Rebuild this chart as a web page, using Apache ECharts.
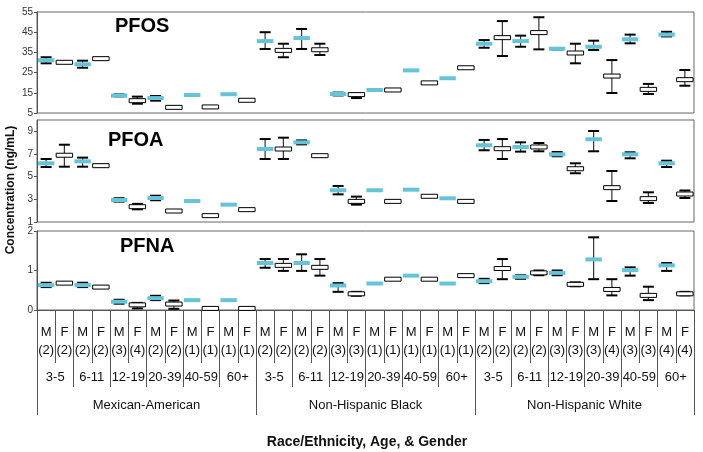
<!DOCTYPE html>
<html>
<head>
<meta charset="utf-8">
<script src="https://cdn.jsdelivr.net/npm/echarts@6/dist/echarts.min.js"></script>
<style>
  html, body { margin: 0; padding: 0; background: #fff; }
  #chart { width: 703px; height: 452px; }
</style>
</head>
<body>
<div id="chart"></div>
<script>
const races = ['Mexican-American', 'Non-Hispanic Black', 'Non-Hispanic White']
const ages = ['3-5', '6-11', '12-19', '20-39', '40-59', '60+']
const sexes = ['M', 'F']
const sampleN = [
  2, 2, 2, 2, 3, 4, 2, 2, 1, 1, 1, 1,
  2, 2, 2, 2, 3, 3, 1, 1, 1, 1, 1, 1,
  2, 2, 2, 2, 3, 3, 3, 4, 3, 3, 4, 4,
]

// mean / low / high per group, null = no range (n=1)
const pfosMean = [
  31.1, 30.1, 29.1, 31.9, 13.6, 11.1, 12.4, 7.8, 13.9, 8.0, 14.3, 11.3,
  40.6, 36.0, 42.1, 36.3, 14.4, 14.1, 16.4, 16.4, 26.1, 19.9, 22.2, 27.4,
  39.3, 42.3, 40.6, 44.8, 36.8, 34.7, 37.8, 23.3, 41.5, 16.7, 43.8, 21.5,
]
const pfosLow = [
  29.6, 29.8, 27.4, 31.5, 13.2, 9.6, 11.1, 7.5, null, null, null, null,
  36.7, 32.6, 36.7, 33.7, 13.7, 12.4, null, null, null, null, null, null,
  37.3, 33.2, 37.8, 36.5, 36.4, 29.6, 36.2, 14.9, 39.5, 14.4, 42.9, 18.5,
]
const pfosHigh = [
  32.6, 30.4, 30.9, 32.3, 14.2, 13.1, 13.4, 8.2, null, null, null, null,
  45.0, 39.3, 46.6, 39.3, 15.1, 14.6, null, null, null, null, null, null,
  41.1, 50.5, 43.3, 52.4, 37.2, 39.3, 40.8, 31.2, 43.8, 19.4, 45.2, 26.3,
]

const pfoaMean = [
  6.18, 6.89, 6.35, 5.97, 2.94, 2.35, 3.12, 1.97, 2.85, 1.56, 2.53, 2.09,
  7.44, 7.44, 8.03, 6.85, 3.8, 2.82, 3.8, 2.82, 3.85, 3.27, 3.09, 2.82,
  7.77, 7.47, 7.62, 7.62, 6.97, 5.7, 8.3, 4.03, 6.97, 3.06, 6.18, 3.47,
]
const pfoaLow = [
  5.85, 5.88, 5.88, 5.9, 2.8, 2.12, 2.92, 1.9, null, null, null, null,
  6.56, 6.56, 7.85, 6.8, 3.44, 2.53, null, null, null, null, null, null,
  7.33, 6.56, 7.21, 7.24, 6.8, 5.3, 7.24, 2.85, 6.62, 2.68, 5.85, 3.12,
]
const pfoaHigh = [
  6.56, 7.82, 6.68, 6.05, 3.1, 2.6, 3.32, 2.05, null, null, null, null,
  8.32, 8.44, 8.2, 6.9, 4.18, 3.24, null, null, null, null, null, null,
  8.24, 8.32, 8.03, 7.97, 7.18, 6.18, 9.03, 5.5, 7.15, 3.62, 6.41, 3.78,
]

const pfnaMean = [
  0.63, 0.68, 0.63, 0.58, 0.21, 0.13, 0.30, 0.15, 0.25, 0.04, 0.25, 0.04,
  1.19, 1.13, 1.19, 1.08, 0.62, 0.41, 0.67, 0.78, 0.87, 0.78, 0.67, 0.87,
  0.73, 1.05, 0.84, 0.94, 0.94, 0.65, 1.28, 0.52, 1.01, 0.37, 1.13, 0.41,
]
const pfnaLow = [
  0.58, 0.66, 0.58, 0.56, 0.16, 0.04, 0.25, 0.03, null, null, null, null,
  1.07, 0.99, 0.99, 0.87, 0.46, 0.36, null, null, null, null, null, null,
  0.68, 0.78, 0.79, 0.88, 0.88, 0.6, 0.78, 0.37, 0.87, 0.25, 0.99, 0.37,
]
const pfnaHigh = [
  0.69, 0.70, 0.69, 0.60, 0.26, 0.18, 0.36, 0.24, null, null, null, null,
  1.29, 1.29, 1.41, 1.29, 0.68, 0.46, null, null, null, null, null, null,
  0.79, 1.29, 0.88, 1.0, 1.0, 0.7, 1.84, 0.78, 1.08, 0.59, 1.19, 0.46,
]

const FONT = 'Arial, "Liberation Sans", sans-serif'
const CYAN = '#66c4d8'

// 36 groups: race > age > sex
const groupLabels = []
races.forEach(() => ages.forEach(() => sexes.forEach(s => groupLabels.push(s))))
const catLabels = groupLabels.map((s, i) => s + '\n(' + sampleN[i] + ')')
const ageCats = []
races.forEach((r, ri) => ages.forEach(a => ageCats.push(a + '#' + ri)))

function toData(mean, low, high) {
  return mean.map((m, i) => [
    i, m,
    low[i] == null ? m : low[i],
    high[i] == null ? m : high[i],
    groupLabels[i] === 'M' ? 1 : 0,
    low[i] == null ? 0 : 1,
  ])
}

function renderMark(params, api) {
  const i = api.value(0)
  const c = api.coord([i, api.value(1)])
  const bw = api.size([1, 0])[0] * 0.9
  const cw = 11
  const children = []
  if (api.value(5)) {
    const lo = api.coord([i, api.value(2)])
    const hi = api.coord([i, api.value(3)])
    children.push({ type: 'line', shape: { x1: c[0], y1: lo[1], x2: c[0], y2: hi[1] }, style: { stroke: '#333', lineWidth: 1.2 } })
    children.push({ type: 'line', shape: { x1: c[0] - cw / 2, y1: lo[1], x2: c[0] + cw / 2, y2: lo[1] }, style: { stroke: '#000', lineWidth: 2 } })
    children.push({ type: 'line', shape: { x1: c[0] - cw / 2, y1: hi[1], x2: c[0] + cw / 2, y2: hi[1] }, style: { stroke: '#000', lineWidth: 2 } })
  }
  const male = api.value(4) === 1
  children.push({
    type: 'rect',
    shape: { x: c[0] - bw / 2, y: c[1] - 2, width: bw, height: 4 },
    style: male ? { fill: CYAN } : { fill: '#fff', stroke: '#000', lineWidth: 1 },
  })
  return { type: 'group', children }
}

const grids = [
  { left: 37, right: 9, top: 12, height: 101 },
  { left: 37, right: 9, top: 120, height: 102 },
  { left: 37, right: 9, top: 231, height: 79 },
].map(g => Object.assign(g, { show: true, borderColor: '#666', borderWidth: 1, containLabel: false }))

const yLabel = { fontSize: 10, color: '#333', fontFamily: FONT, margin: 4 }
const yCommon = {
  type: 'value',
  splitLine: { show: false },
  axisLine: { show: true, lineStyle: { color: '#555' } },
  axisTick: { show: true, length: 3, lineStyle: { color: '#555' } },
  axisLabel: yLabel,
}

const axisFont = { fontSize: 13, color: '#111', fontFamily: FONT }
const sepLine = { color: '#555', width: 1 }

const chart = echarts.init(document.getElementById('chart'))
chart.setOption({
  animation: false,
  grid: grids,
  xAxis: [
    { type: 'category', gridIndex: 0, data: catLabels, show: false },
    { type: 'category', gridIndex: 1, data: catLabels, show: false },
    {
      type: 'category', gridIndex: 2, data: catLabels, position: 'bottom',
      axisLine: { show: true, onZero: false, lineStyle: sepLine },
      axisTick: { show: true, length: 53, lineStyle: sepLine },
      axisLabel: Object.assign({ interval: 0, margin: 13, lineHeight: 18 }, axisFont),
    },
    {
      type: 'category', gridIndex: 2, data: ageCats, position: 'bottom',
      axisLine: { show: false, onZero: false },
      axisTick: { show: true, length: 77, lineStyle: sepLine },
      axisLabel: Object.assign({ interval: 0, margin: 61, formatter: v => v.split('#')[0] }, axisFont),
    },
    {
      type: 'category', gridIndex: 2, data: races, position: 'bottom',
      axisLine: { show: false, onZero: false },
      axisTick: { show: true, length: 105, lineStyle: sepLine },
      axisLabel: Object.assign({ interval: 0, margin: 89 }, axisFont),
    },
  ],
  yAxis: [
    Object.assign({}, yCommon, { gridIndex: 0, min: 5, max: 55, interval: 10 }),
    Object.assign({}, yCommon, { gridIndex: 1, min: 1, max: 10, interval: 2, axisLabel: Object.assign({ showMaxLabel: false }, yLabel) }),
    Object.assign({}, yCommon, { gridIndex: 2, min: 0, max: 2, interval: 1 }),
  ],
  series: [
    { name: 'PFOS', type: 'custom', xAxisIndex: 0, yAxisIndex: 0, renderItem: renderMark, data: toData(pfosMean, pfosLow, pfosHigh) },
    { name: 'PFOA', type: 'custom', xAxisIndex: 1, yAxisIndex: 1, renderItem: renderMark, data: toData(pfoaMean, pfoaLow, pfoaHigh) },
    { name: 'PFNA', type: 'custom', xAxisIndex: 2, yAxisIndex: 2, renderItem: renderMark, data: toData(pfnaMean, pfnaLow, pfnaHigh) },
  ],
  graphic: [
    { type: 'text', left: 115, top: 16, style: { text: 'PFOS', font: 'bold 20px ' + FONT, fill: '#000' } },
    { type: 'text', left: 108, top: 130, style: { text: 'PFOA', font: 'bold 20px ' + FONT, fill: '#000' } },
    { type: 'text', left: 120, top: 236, style: { text: 'PFNA', font: 'bold 20px ' + FONT, fill: '#000' } },
    {
      type: 'text', x: 11, y: 190, rotation: Math.PI / 2,
      style: { text: 'Concentration (ng/mL)', font: 'bold 12px ' + FONT, fill: '#111', align: 'center', verticalAlign: 'middle' },
    },
    {
      type: 'text', x: 367, y: 442,
      style: { text: 'Race/Ethnicity, Age, & Gender', font: 'bold 14px ' + FONT, fill: '#111', align: 'center', verticalAlign: 'middle' },
    },
  ],
})
</script>
</body>
</html>
